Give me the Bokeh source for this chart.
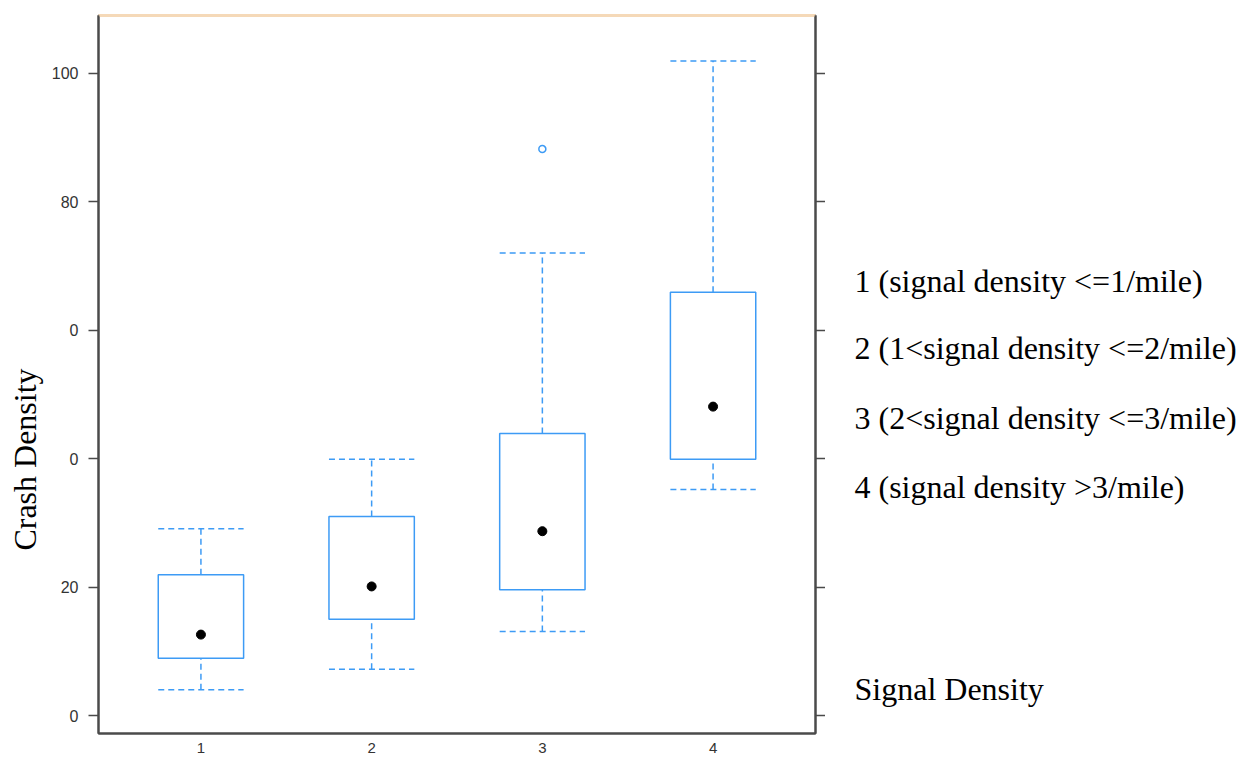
import numpy as np
from bokeh.plotting import figure
from bokeh.layouts import row
from bokeh.models import LinearAxis, FixedTicker, Range1d
from bokeh.core.properties import value
from bokeh.embed import file_html
from bokeh.resources import INLINE

# ---- data ----
categories = [1, 2, 3, 4]
whisker_low = [4.0, 7.2, 13.1, 35.2]
q1 = [8.9, 15.0, 19.6, 39.9]
median = [12.6, 20.1, 28.7, 48.1]
q3 = [21.9, 31.0, 43.9, 65.9]
whisker_high = [29.1, 39.9, 72.0, 101.9]
outlier_x = [3]
outlier_y = [88.2]

y_ticks = [0, 20, 40, 60, 80, 100]
y_tick_labels = {0: "0", 20: "20", 40: "0", 60: "0", 80: "80", 100: "100"}
x_tick_labels = {1: "1", 2: "2", 3: "3", 4: "4"}
legend_lines = ["1 (signal density <=1/mile)",
                "2 (1<signal density <=2/mile)",
                "3 (2<signal density <=3/mile)",
                "4 (signal density >3/mile)"]
legend_title = "Signal Density"
y_title = "Crash Density"

BLUE = "#3d9bf5"
DARK = "#4a4a4a"
SERIF = "Liberation Serif"
SANS = "Liberation Sans"
BOX_W = 0.5
H = 757
TOP, BOT = 15, 24   # borders shared by all panels (row aligns frames)


def blank(width):
    # pixel-like panel: data y equals (H - page y), data x equals panel x
    f = figure(width=width, height=H, output_backend="svg", toolbar_location=None,
               title=None, x_range=Range1d(0, width), y_range=Range1d(BOT, H - TOP),
               min_border=0, min_border_top=TOP, min_border_bottom=BOT,
               x_axis_location=None, y_axis_location=None)
    f.xgrid.visible = False
    f.ygrid.visible = False
    f.outline_line_color = None
    return f


# left panel: y-axis title
p0 = blank(45)
p0.text(x=[24], y=[H - 459], text=[y_title], angle=np.pi / 2,
        text_font=value(SERIF), text_font_size="32px", text_color="black",
        text_baseline="middle", text_align="center")

p = figure(width=780, height=H, output_backend="svg", toolbar_location=None, title=None,
           x_range=Range1d(0.4, 4.6), y_range=Range1d(-2.8, 109.0),
           min_border_left=53, min_border_right=10, min_border_top=TOP, min_border_bottom=BOT,
           x_axis_location=None, y_axis_location=None)
p.xgrid.visible = False
p.ygrid.visible = False
p.outline_line_color = DARK
p.outline_line_width = 2
p.background_fill_color = "white"
p.border_fill_color = "white"

# axes
left = LinearAxis(ticker=FixedTicker(ticks=y_ticks), major_label_overrides=y_tick_labels)
left.major_label_text_font = SANS
left.major_label_text_font_size = "16px"
left.major_label_text_color = "#333333"
left.major_label_standoff = 10
left.major_tick_out = 10
left.major_tick_in = 0
left.minor_tick_out = 0
left.minor_tick_in = 0
left.major_tick_line_color = DARK
left.major_tick_line_width = 1.5
left.axis_line_color = DARK
left.axis_line_width = 2
p.add_layout(left, "left")

right = LinearAxis(ticker=FixedTicker(ticks=y_ticks),
                   major_label_overrides={t: "" for t in y_ticks},
                   major_tick_out=10, major_tick_in=0, minor_tick_out=0, minor_tick_in=0,
                   major_tick_line_color=DARK, major_tick_line_width=1.5,
                   axis_line_color=DARK, axis_line_width=2, major_label_standoff=0)
p.add_layout(right, "right")

top = LinearAxis(ticker=FixedTicker(ticks=[]),
                 major_tick_out=0, major_tick_in=0, minor_tick_out=0, minor_tick_in=0,
                 axis_line_color="#f5d9b8", axis_line_width=3, major_label_standoff=0)
p.add_layout(top, "above")

bottom = LinearAxis(ticker=FixedTicker(ticks=categories), major_label_overrides=x_tick_labels)
bottom.major_label_text_font = SANS
bottom.major_label_text_font_size = "15px"
bottom.major_label_text_color = "#333333"
bottom.major_label_standoff = 9
bottom.major_tick_out = 0
bottom.major_tick_in = 0
bottom.minor_tick_out = 0
bottom.minor_tick_in = 0
bottom.axis_line_color = DARK
bottom.axis_line_width = 2
p.add_layout(bottom, "below")

# boxes
cx = np.array(categories, dtype=float)
p.segment(x0=cx, y0=q3, x1=cx, y1=whisker_high, line_color=BLUE,
          line_width=1.5, line_dash="6 4")
p.segment(x0=cx, y0=whisker_low, x1=cx, y1=q1, line_color=BLUE,
          line_width=1.5, line_dash="6 4")
p.segment(x0=cx - BOX_W / 2, y0=whisker_high, x1=cx + BOX_W / 2, y1=whisker_high,
          line_color=BLUE, line_width=1.5, line_dash="6 4")
p.segment(x0=cx - BOX_W / 2, y0=whisker_low, x1=cx + BOX_W / 2, y1=whisker_low,
          line_color=BLUE, line_width=1.5, line_dash="6 4")
p.vbar(x=cx, bottom=q1, top=q3, width=BOX_W, fill_color=None,
       line_color=BLUE, line_width=1.5)
p.scatter(x=cx, y=median, size=9, color="black")
p.scatter(x=outlier_x, y=outlier_y, size=7, fill_color=None, line_color=BLUE, line_width=1.5)

# right-hand text panel
p2 = blank(415)
text_x = [29] * (len(legend_lines) + 1)
text_y = [H - c for c in (280, 347, 417, 486, 688)]
p2.text(x=text_x, y=text_y, text=legend_lines + [legend_title],
        text_font=value(SERIF), text_font_size="32px", text_color="black",
        text_baseline="middle", text_align="left")

layout = row(p0, p, p2, spacing=0)
open("out.html", "w").write(file_html(layout, INLINE))
